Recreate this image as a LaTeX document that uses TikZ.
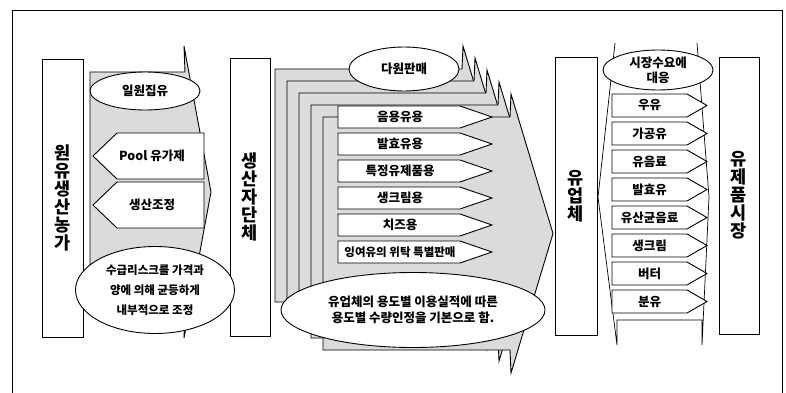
\documentclass[tikz,border=0pt]{standalone}
\usepackage{fontspec}
\setmainfont{Noto Sans CJK KR}
\usetikzlibrary{shapes.geometric}
\tikzstyle{frame}=[draw=black, line width=0.7pt]
\tikzstyle{pillar}=[rectangle, draw=black, fill=white, line width=0.9pt, inner sep=0pt, align=center, font=\fontsize{17.5}{18}\selectfont\bfseries]
\tikzstyle{oval}=[ellipse, draw=black, fill=white, line width=0.9pt, inner sep=0pt, align=center, font=\fontsize{12.5}{15}\selectfont\bfseries]
\tikzstyle{tagline}=[draw=black, fill=white, line width=0.9pt, line join=miter]
\tikzstyle{tagtext}=[inner sep=0pt, font=\fontsize{12.5}{14}\selectfont\bfseries]
\tikzstyle{stipple}=[fill=black!14, draw=black, line width=0.9pt, line join=miter]
\newcommand{\flowlayer}[1]
{
  \path[stipple, shift={(#1,#1)}] (275,69) -- (462,69) -- (463,46) -- (505,185.5) -- (463,325) -- (462,302) -- (275,302) -- cycle;
}
\newcommand{\pooltag}[3]
{
  \path[tagline] (204,#2) -- (117,#2) -- (93,#2+23) -- (117,#2+46) -- (204,#2+46) -- cycle;
  \node[tagtext] (#1) at (152,#2+23) {#3};
}
\newcommand{\usetag}[4][]
{
  \path[tagline] (338,#3) -- (460,#3) -- (492,#3+11) -- (460,#3+22) -- (338,#3+22) -- cycle;
  \node[tagtext, #1] (#2) at (400,#3+11) {#4};
}
\newcommand{\goodstag}[3]
{
  \path[tagline] (612,#2) -- (687,#2) -- (707,#2+11.5) -- (687,#2+23) -- (612,#2+23) -- cycle;
  \node[tagtext] (#1) at (649.5,#2+11.5) {#3};
}

\begin{document}
\begin{tikzpicture}[x=1pt, y=-1pt]
	\useasboundingbox (0,0) rectangle (786,393);
	\draw[frame] (12,393) -- (12,10) -- (782,10) -- (782,393);

	% producers
	\node[pillar, minimum width=41, minimum height=278](farm) at (62.5,198){원\\유\\생\\산\\농\\가};
	\node[pillar, minimum width=40, minimum height=278](union) at (250,197){생\\산\\자\\단\\체};
	\path[stipple] (90,72) -- (185,72) -- (184,46) -- (211,192) -- (184,338) -- (185,312) -- (90,312) -- cycle;
	\node[oval, minimum width=110, minimum height=38](collect) at (145,91){일원집유};
	\pooltag{pool}{133}{Pool 유가제}
	\pooltag{adjust}{182}{생산조정}
	\node[oval, minimum width=159, minimum height=87, font=\fontsize{11.5}{20}\selectfont\bfseries](risk) at (155,290){수급리스크를 가격과\\양에 의해 균등하게\\내부적으로 조정};

	% processors
	\foreach \i in {0,...,4} {\flowlayer{12*\i}}
	\node[oval, minimum width=110, minimum height=44](multi) at (404,69){다원판매};
	\usetag{drink}{106}{음용유용}
	\usetag{ferment}{133}{발효유용}
	\usetag{special}{160}{특정유제품용}
	\usetag{cream}{187}{생크림용}
	\usetag{cheese}{214}{치즈용}
	\usetag[font=\fontsize{11.5}{13}\selectfont\bfseries]{surplus}{241}{잉여유의 위탁 특별판매}
	\node[oval, minimum width=264, minimum height=75, font=\fontsize{12.5}{16}\selectfont\bfseries](quota) at (413,310){유업체의 용도별 이용실적에 따른\\용도별 수량인정을 기본으로 함.};

	% market
	\draw[frame] (615,43) -- (598,197) -- (617,345) -- (617,320) -- (702,320) -- (702,345) -- (709,197) -- (697,43);
	\node[pillar, minimum width=42, minimum height=278](dairy) at (576,196){유\\업\\체};
	\node[oval, minimum width=110, minimum height=40](demand) at (658,70){시장수요에\\대응};
	\goodstag{milk}{94}{우유}
	\goodstag{processed}{122}{가공유}
	\goodstag{drinks}{150}{유음료}
	\goodstag{yogurt}{178}{발효유}
	\goodstag{lactic}{206}{유산균음료}
	\goodstag{freshcream}{234}{생크림}
	\goodstag{butter}{262}{버터}
	\goodstag{powder}{290}{분유}
	\node[pillar, minimum width=40, minimum height=277](market) at (739,195.5){유\\제\\품\\시\\장};
\end{tikzpicture}
\end{document}
